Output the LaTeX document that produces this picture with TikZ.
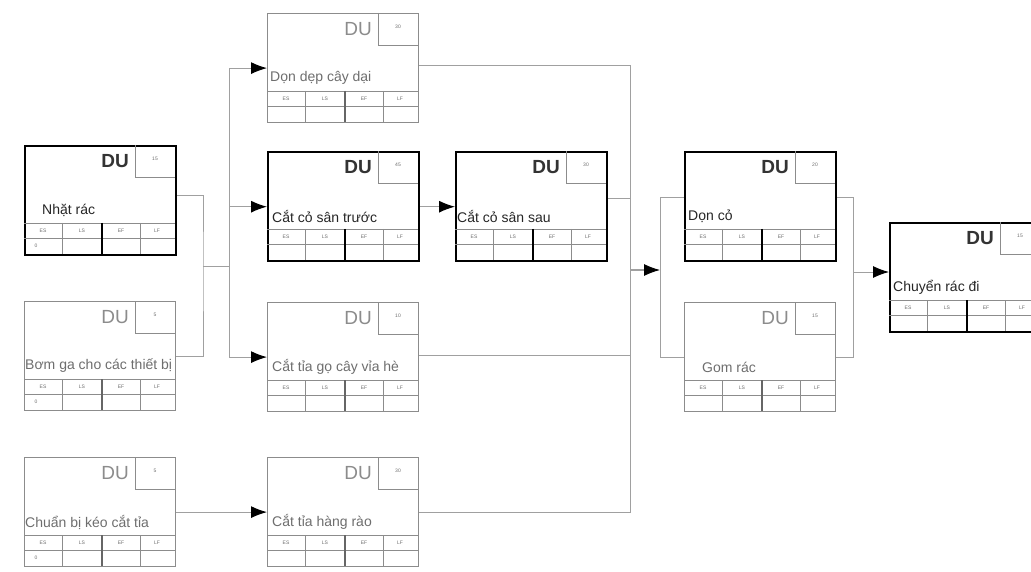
\documentclass[tikz,border=0pt]{standalone}
\usepackage{fontspec}
\setmainfont{Liberation Sans}
\usetikzlibrary{arrows.meta}

\definecolor{boxgray}{HTML}{8C8C8C}
\definecolor{linkgray}{HTML}{A0A0A0}
\definecolor{textgray}{HTML}{6E6E6E}

\tikzset{
  mainbox/.style={draw=black, line width=2.4pt, minimum width=151pt, minimum height=109pt, inner sep=0pt, fill=white},
  sidebox/.style={draw=boxgray, line width=1.2pt, minimum width=151pt, minimum height=109pt, inner sep=0pt, fill=white},
  mainline/.style={draw=boxgray, line width=0.8pt},
  sideline/.style={draw=boxgray, line width=0.8pt},
  mainmid/.style={draw=black, line width=1.8pt},
  sidemid/.style={draw=black!60, line width=1.6pt},
  maindu/.style={font=\fontsize{19}{19}\selectfont\bfseries, text=black!80, inner sep=0pt},
  sidedu/.style={font=\fontsize{19}{19}\selectfont, text=boxgray, inner sep=0pt},
  maintitle/.style={font=\fontsize{14}{14}\selectfont, text=black!85, inner sep=0pt},
  sidetitle/.style={font=\fontsize{14}{14}\selectfont, text=textgray, inner sep=0pt},
  tinylbl/.style={font=\fontsize{5}{5}\selectfont, text=textgray, inner sep=0pt},
  link/.style={draw=linkgray, line width=1pt},
  arrow/.style={link, -{Latex[length=16pt, width=12pt, color=black]}}
}

% name, x, y, title, title offset, duration, kind, ES value
\newcommand{\taskbox}[8]{%
  \node[#7box, anchor=north west] (#1) at (#2,#3) {};
  \begin{scope}[shift={(#1.north west)}]
    \draw[#7line] (111,0) |- (151,32);
    \node[#7du, anchor=east] (#1-du) at (105,16) {DU};
    \node[tinylbl] (#1-dur) at (131,14) {#6};
    \node[#7title, anchor=west] (#1-title) at (#5,65) {#4};
    \draw[#7line] (0,78) -- (151,78) (0,93) -- (151,93)
      (38,78) -- (38,109) (116,78) -- (116,109);
    \draw[#7mid] (78,78) -- (78,109);
    \foreach \c/\l in {19/ES, 58/LS, 97/EF, 133/LF}
      \node[tinylbl] (#1-\l) at (\c,85.5) {\l};
    \node[tinylbl] (#1-val) at (12,101) {#8};
  \end{scope}}

\begin{document}
\begin{tikzpicture}[x=1pt, y=-1pt]

  \useasboundingbox[fill=white] (0,0) rectangle (1031,572);

  % tasks
  \taskbox{nhat}{24}{145}{Nhặt rác}{18}{15}{main}{0}
  \taskbox{bom}{24}{301}{Bơm ga cho các thiết bị}{1}{5}{side}{0}
  \taskbox{chuan}{24}{457}{Chuẩn bị kéo cắt tỉa}{1}{5}{side}{0}
  \taskbox{don}{267}{13}{Dọn dẹp cây dại}{3}{30}{side}{}
  \taskbox{truoc}{267}{151}{Cắt cỏ sân trước}{5}{45}{main}{}
  \taskbox{tia}{267}{302}{Cắt tỉa gọ cây vỉa hè}{5}{10}{side}{}
  \taskbox{hangrao}{267}{457}{Cắt tỉa hàng rào}{5}{30}{side}{}
  \taskbox{sau}{455}{151}{Cắt cỏ sân sau}{2}{30}{main}{}
  \taskbox{donco}{684}{151}{Dọn cỏ}{4}{20}{main}{}
  \taskbox{gom}{684}{302}{Gom rác}{18}{15}{side}{}
  \taskbox{chuyen}{889}{222}{Chuyển rác đi}{4}{15}{main}{}

  % junctions
  \coordinate (jleft) at (203,267);
  \coordinate (jfork) at (229,267);
  \coordinate (jmid) at (630,270);
  \coordinate (jin) at (660,270);
  \coordinate (jright) at (853,272);

  % first split
  \draw[link] ([yshift=5pt]nhat.east) -| (jleft) |- (bom.east);
  \draw[link] (jleft) -- (jfork);
  \draw[arrow] (jfork) |- (don.west);
  \draw[arrow] (jfork) |- (truoc.west);
  \draw[arrow] (jfork) |- (tia.west);
  \draw[arrow] (chuan.east) -- (hangrao.west);
  \draw[arrow] (truoc.east) -- (sau.west);

  % merge to cleanup
  \draw[link] ([yshift=3pt]don.east) -| (jmid);
  \draw[link] ([yshift=8pt]sau.east) -| (jmid);
  \draw[link] ([yshift=2pt]tia.east) -| (jmid);
  \draw[link] (hangrao.east) -| (jmid);
  \draw[arrow] (jmid) -- (jin);
  \draw[link] (jin) |- ([yshift=9pt]donco.west);
  \draw[link] (jin) |- (gom.west);

  % final
  \draw[link] ([yshift=9pt]donco.east) -| (jright);
  \draw[link] (gom.east) -| (jright);
  \draw[arrow] (jright) -- (chuyen.west |- jright);

\end{tikzpicture}
\end{document}
